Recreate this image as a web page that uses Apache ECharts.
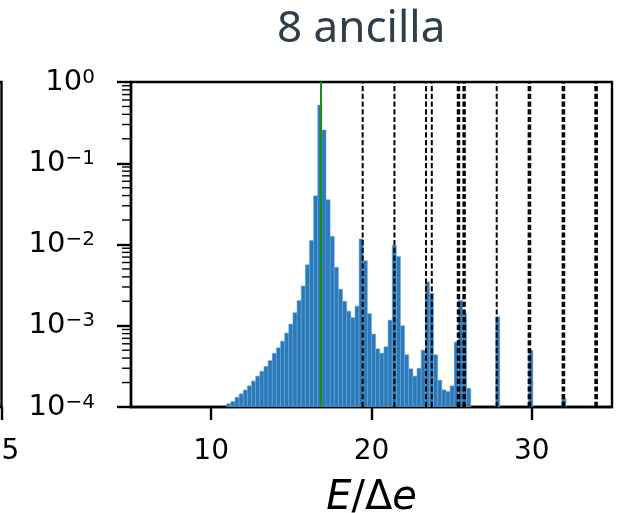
<!DOCTYPE html>
<html><head><meta charset="utf-8">
<script src="https://cdn.jsdelivr.net/npm/echarts@6/dist/echarts.min.js"></script>
<style>html,body{margin:0;padding:0;background:#fff}#c{width:626px;height:513px}</style>
</head><body><div id="c"></div>
<script>
// ---- data ----
const titleText = '8 ancilla';
const binWidth = 0.258;
const binCenters = [
  11.100, 11.358, 11.616, 11.874, 12.132, 12.390, 12.648, 12.906, 13.164, 13.422,
  13.680, 13.938, 14.196, 14.454, 14.712, 14.970, 15.228, 15.486, 15.744, 16.002,
  16.260, 16.518, 16.776, 17.034, 17.292, 17.550, 17.808, 18.066, 18.324, 18.582,
  18.840, 19.098, 19.356, 19.614, 19.872, 20.130, 20.388, 20.646, 20.904, 21.162,
  21.420, 21.678, 21.936, 22.194, 22.452, 22.710, 22.968, 23.226, 23.484, 23.742,
  24.000, 24.258, 24.516, 24.774, 25.032, 25.290, 25.548, 25.806, 26.064,
  27.870, 29.934, 31.998
];
const binHeights = [
  1.10e-4, 1.17e-4, 1.32e-4, 1.45e-4, 1.62e-4, 1.82e-4, 2.09e-4, 2.40e-4, 2.75e-4, 3.16e-4,
  3.72e-4, 4.57e-4, 5.37e-4, 6.46e-4, 8.13e-4, 1.05e-3, 1.45e-3, 2.04e-3, 3.09e-3, 5.62e-3,
  1.12e-2, 3.98e-2, 5.20e-1, 2.57e-1, 3.55e-2, 1.26e-2, 5.25e-3, 2.82e-3, 2.00e-3, 1.51e-3,
  1.26e-3, 1.74e-3, 1.17e-2, 6.30e-3, 1.41e-3, 7.90e-4, 5.20e-4, 4.60e-4, 5.50e-4, 1.17e-3,
  9.80e-3, 7.10e-3, 1.00e-3, 4.40e-4, 2.95e-4, 2.40e-4, 3.00e-4, 5.00e-4, 3.47e-3, 2.51e-3,
  4.40e-4, 2.14e-4, 1.62e-4, 1.55e-4, 1.82e-4, 6.30e-4, 2.04e-3, 1.41e-3, 1.70e-4,
  1.29e-3, 5.00e-4, 1.26e-4
];
const groundEnergy = [16.85];
const excitedEnergies = [19.45, 21.43, 23.40, 23.76, 25.38, 25.47, 25.73, 25.82,
  27.81, 29.80, 29.90, 31.92, 32.02, 33.96, 34.06];
const xTickValues = [10, 20, 30];
const yMinorTicks = [
  2e-4, 3e-4, 4e-4, 5e-4, 6e-4, 7e-4, 8e-4, 9e-4,
  2e-3, 3e-3, 4e-3, 5e-3, 6e-3, 7e-3, 8e-3, 9e-3,
  2e-2, 3e-2, 4e-2, 5e-2, 6e-2, 7e-2, 8e-2, 9e-2,
  2e-1, 3e-1, 4e-1, 5e-1, 6e-1, 7e-1, 8e-1, 9e-1
];
const xMin = 5, xMax = 35, yMin = 1e-4, yMax = 1;
// neighbouring panel fragment axis
const sideXMin = 5, sideXMax = 25, sideXInterval = 5;

// ---- chart ----
const chart = echarts.init(document.getElementById('c'), null, {renderer: 'canvas'});
const FONT = 'DejaVu Sans';

const barData = binCenters.map((c, i) => [c, binHeights[i]]);

function yLabel(v) {
  const e = Math.round(Math.log10(v));
  const s = e < 0 ? '\u2212' + (-e) : String(e);
  return '{b|10}{e|' + s + '}';
}

const option = {
  animation: false,
  backgroundColor: '#fff',
  title: {
    text: titleText,
    left: 272, top: 2,
    textStyle: {fontFamily: 'Noto Sans', fontSize: 44, fontWeight: 'normal', color: '#2f3e4b'}
  },
  grid: [
    {left: 131, right: 14, top: 82, bottom: 106, show: true, borderColor: '#000', borderWidth: 2.4,
     backgroundColor: 'transparent', containLabel: false, outerBoundsMode: 'none'},
    {left: -400, right: 624.5, top: 82, bottom: 106, show: true, borderColor: '#000', borderWidth: 2.4,
     backgroundColor: 'transparent', containLabel: false, outerBoundsMode: 'none'}
  ],
  xAxis: [
    {
      type: 'value', gridIndex: 0, min: xMin, max: xMax,
      splitLine: {show: false},
      axisLine: {show: true, onZero: false, lineStyle: {color: '#000', width: 2.4}},
      axisTick: {show: true, length: 13, lineStyle: {color: '#000', width: 2.4}, customValues: xTickValues},
      axisLabel: {show: true, margin: 31, fontFamily: FONT, fontSize: 28, color: '#000', customValues: xTickValues},
      name: '{i|E}{n|/\u0394}{i|e}',
      nameLocation: 'middle', nameGap: 72,
      nameTextStyle: {
        rich: {
          i: {fontFamily: FONT, fontSize: 40, fontStyle: 'italic', color: '#000'},
          n: {fontFamily: FONT, fontSize: 40, color: '#000'}
        }
      }
    },
    {
      type: 'value', gridIndex: 1, min: sideXMin, max: sideXMax, interval: sideXInterval,
      splitLine: {show: false},
      axisLine: {show: true, onZero: false, lineStyle: {color: '#000', width: 2.4}},
      axisTick: {show: true, length: 13, lineStyle: {color: '#000', width: 2.4}},
      axisLabel: {show: true, margin: 31, fontFamily: FONT, fontSize: 28, color: '#000', showMaxLabel: true}
    }
  ],
  yAxis: [
    {
      type: 'log', logBase: 10, gridIndex: 0, min: yMin, max: yMax,
      splitLine: {show: false},
      axisLine: {show: true, onZero: false, lineStyle: {color: '#000', width: 2.4}},
      axisTick: {show: true, length: 14, lineStyle: {color: '#000', width: 2.4}},
      minorTick: {show: false},
      axisLabel: {
        show: true, margin: 36, formatter: yLabel,
        rich: {
          b: {fontFamily: FONT, fontSize: 29, color: '#000', lineHeight: 29, padding: [7, 0, 0, 0], verticalAlign: 'bottom'},
          e: {fontFamily: FONT, fontSize: 20, color: '#000', lineHeight: 20, verticalAlign: 'top'}
        }
      }
    },
    {
      type: 'log', logBase: 10, gridIndex: 1, min: yMin, max: yMax, show: false
    }
  ],
  series: [
    {
      type: 'custom', xAxisIndex: 0, yAxisIndex: 0, clip: true, z: 2,
      data: barData,
      renderItem: function (params, api) {
        const c = api.value(0), h = api.value(1);
        const p0 = api.coord([c - binWidth / 2, h]);
        const p1 = api.coord([c + binWidth / 2, yMin]);
        return {
          type: 'rect',
          shape: {x: p0[0], y: p0[1], width: p1[0] - p0[0], height: p1[1] - p0[1]},
          style: {fill: '#2a7aba', stroke: 'rgba(110,165,215,0.85)', lineWidth: 0.6}
        };
      }
    },
    {
      type: 'custom', xAxisIndex: 0, yAxisIndex: 0, clip: true, z: 4,
      data: excitedEnergies.map(v => [v]),
      renderItem: function (params, api) {
        const v = api.value(0);
        const b = api.coord([v, yMin]);
        const t = api.coord([v, yMax]);
        return {
          type: 'line',
          shape: {x1: b[0], y1: b[1], x2: t[0], y2: t[1]},
          style: {stroke: '#000', lineWidth: 2, lineDash: [5.2, 2.5]}
        };
      }
    },
    {
      type: 'custom', xAxisIndex: 0, yAxisIndex: 0, clip: true, z: 5,
      data: groundEnergy.map(v => [v]),
      renderItem: function (params, api) {
        const v = api.value(0);
        const b = api.coord([v, yMin]);
        const t = api.coord([v, yMax]);
        return {
          type: 'line',
          shape: {x1: b[0], y1: b[1], x2: t[0], y2: t[1]},
          style: {stroke: '#1f8a1f', lineWidth: 2}
        };
      }
    },
    {
      type: 'custom', xAxisIndex: 0, yAxisIndex: 0, clip: false, z: 6,
      data: yMinorTicks.map(v => [v]),
      renderItem: function (params, api) {
        const v = api.value(0);
        const p = api.coord([xMin, v]);
        return {
          type: 'line',
          shape: {x1: p[0] - 9, y1: p[1], x2: p[0], y2: p[1]},
          style: {stroke: '#000', lineWidth: 1.4}
        };
      }
    }
  ]
};
chart.setOption(option);
</script>
</body></html>
